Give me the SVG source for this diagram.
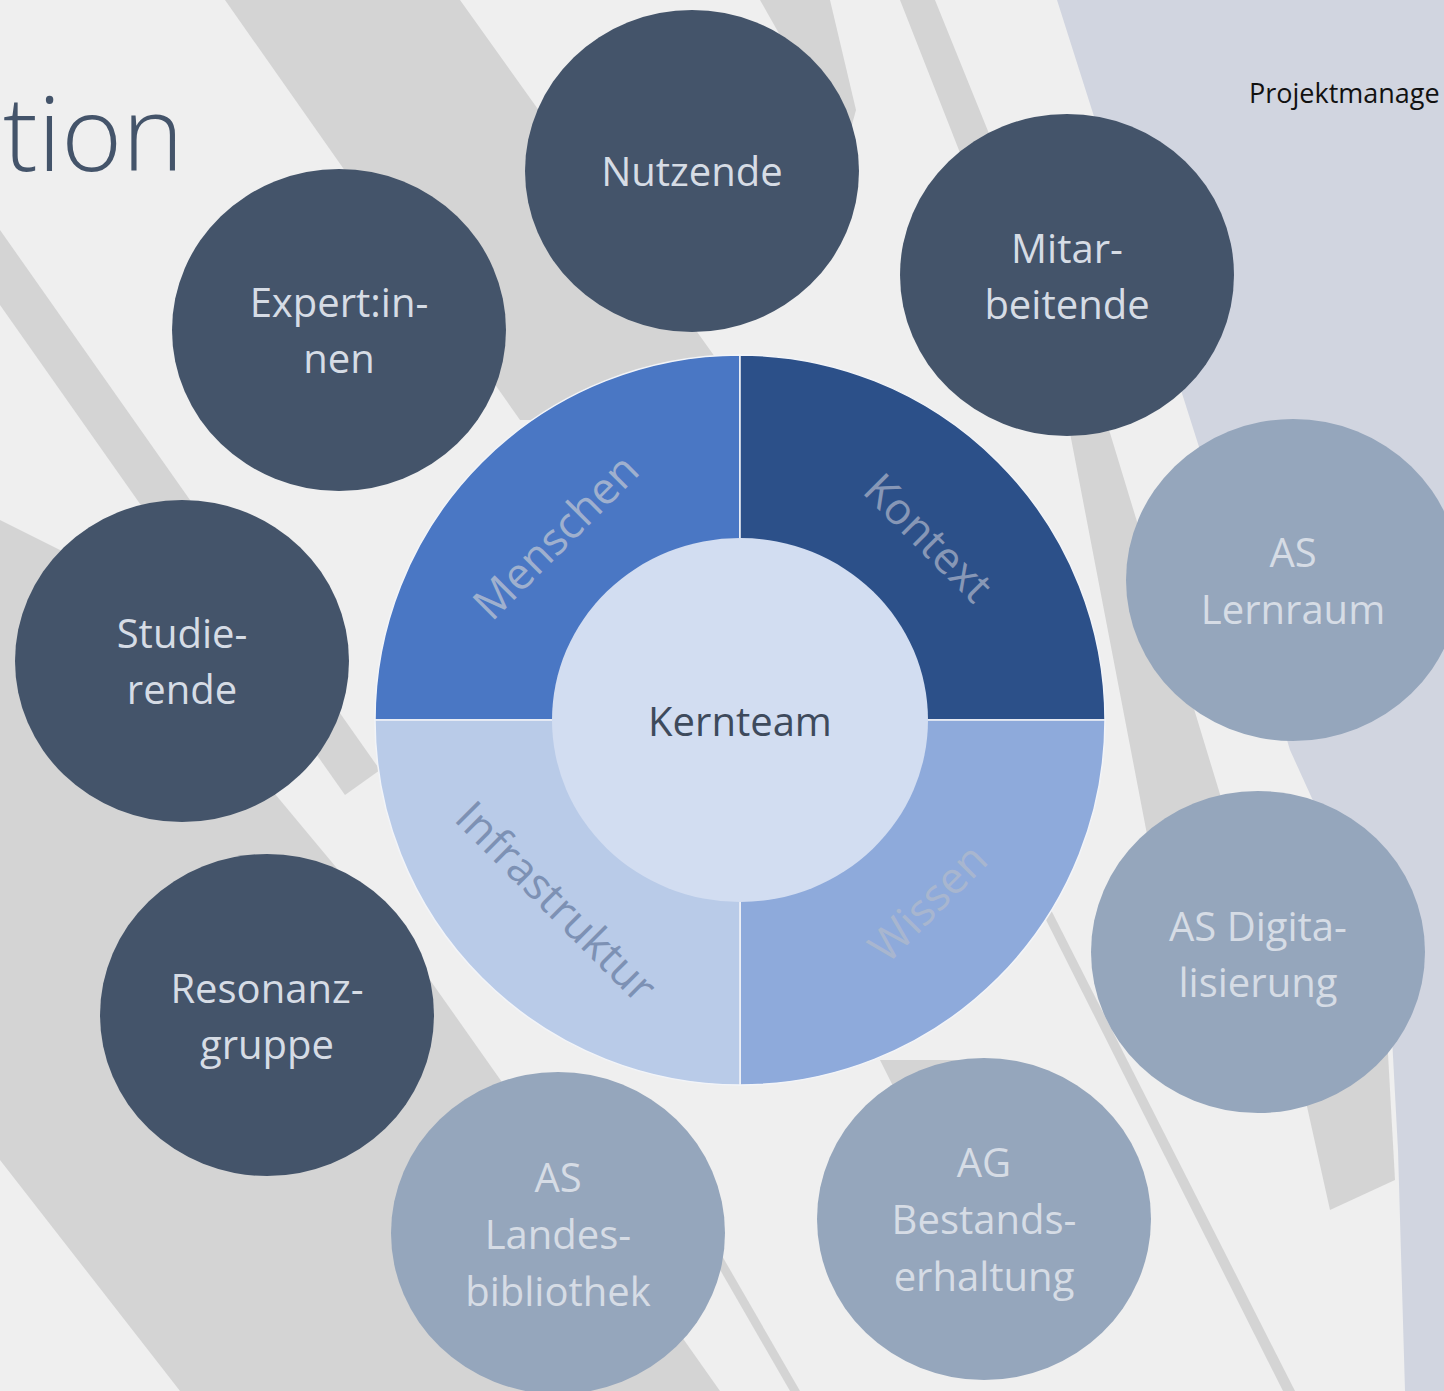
<svg xmlns="http://www.w3.org/2000/svg" width="1444" height="1391" viewBox="0 0 1444 1391">
<style>
.dark{fill:#44546a}
.light{fill:#95a6bc}
.lbl{font-family:"Open Sans","Noto Sans","DejaVu Sans",sans-serif;font-size:40px;fill:#d6dce5;text-anchor:middle}
.ring{font-family:"Open Sans","Noto Sans","DejaVu Sans",sans-serif;font-size:44px;text-anchor:middle}
.grey{fill:#d4d4d4}
.seg{stroke:#f2f4f8;stroke-width:1.5}
</style>
<g id="background">
<rect x="0" y="0" width="1444" height="1391" fill="#efefef"/>
<polygon class="grey" points="225,0 460,0 760,420 520,420"/>
<polygon class="grey" points="760,0 830,0 856,110 845,150"/>
<polygon class="grey" points="0,230 380,770 345,795 0,305"/>
<polygon class="grey" points="0,520 80,560 430,980 720,1391 180,1391 0,1160"/>
<polygon class="grey" points="380,1040 470,1040 520,1120 400,1120"/>
<polygon class="grey" points="900,0 935,0 1110,433 1237,850 1150,850 1070,433"/>
<polygon class="grey" points="1290,1030 1385,1000 1395,1180 1330,1210"/>
<polygon class="grey" points="1036,900 1046,900 1295,1391 1283,1391"/>
<polygon class="grey" points="700,1235 710,1235 800,1391 790,1391"/>
<polygon class="grey" points="880,1060 960,1060 1000,1100 900,1100"/>
<polygon fill="#d1d5e0" points="1057,0 1444,0 1444,1391 1405,1391 1398,1150 1390,1000 1340,860 1290,750 1200,450"/>
</g>
<g id="title">
<text x="3" y="171" font-family="'Open Sans','Noto Sans',sans-serif" font-weight="300" font-size="104" fill="#44546a">tion</text>
<text x="1249" y="103" font-family="'Open Sans','Noto Sans',sans-serif" font-size="27" fill="#111111">Projektmanage</text>
</g>
<g id="connectors"></g>
<g id="ring">
<g id="menschen">
<path class="seg" fill="#4a77c4" d="M740,720 L375,720 A365,365 0 0 1 740,355 Z"/>
<text class="ring" fill="#9fb0ce" transform="translate(556,537) rotate(-45)" x="0" y="15">Menschen</text>
</g>
<g id="kontext">
<path class="seg" fill="#2c5089" d="M740,720 L740,355 A365,365 0 0 1 1105,720 Z"/>
<text class="ring" fill="#8797b6" transform="translate(928,538) rotate(45)" x="0" y="15">Kontext</text>
</g>
<g id="wissen">
<path class="seg" fill="#8eaadb" d="M740,720 L1105,720 A365,365 0 0 1 740,1085 Z"/>
<text class="ring" fill="#a8b6cf" transform="translate(928,903) rotate(-45)" x="0" y="15">Wissen</text>
</g>
<g id="infrastruktur">
<path class="seg" fill="#b9cbe8" d="M740,720 L740,1085 A365,365 0 0 1 375,720 Z"/>
<text class="ring" fill="#7d91b4" transform="translate(556,902) rotate(45)" x="0" y="15">Infrastruktur</text>
</g>
</g>
<g id="kernteam">
<ellipse cx="740" cy="720" rx="188" ry="182" fill="#d2ddf1"/>
<text x="740" y="736" font-family="'Open Sans','Noto Sans',sans-serif" font-size="40" fill="#3e4a5c" text-anchor="middle">Kernteam</text>
</g>
<g id="nutzende">
<ellipse class="dark" cx="692" cy="171" rx="167" ry="161"/>
<text class="lbl" x="692" y="186">Nutzende</text>
</g>
<g id="expertinnen">
<ellipse class="dark" cx="339" cy="330" rx="167" ry="161"/>
<text class="lbl" x="339" y="317">Expert:in-</text>
<text class="lbl" x="339" y="373">nen</text>
</g>
<g id="mitarbeitende">
<ellipse class="dark" cx="1067" cy="275" rx="167" ry="161"/>
<text class="lbl" x="1067" y="263">Mitar-</text>
<text class="lbl" x="1067" y="319">beitende</text>
</g>
<g id="studierende">
<ellipse class="dark" cx="182" cy="661" rx="167" ry="161"/>
<text class="lbl" x="182" y="648">Studie-</text>
<text class="lbl" x="182" y="704">rende</text>
</g>
<g id="resonanzgruppe">
<ellipse class="dark" cx="267" cy="1015" rx="167" ry="161"/>
<text class="lbl" x="267" y="1003">Resonanz-</text>
<text class="lbl" x="267" y="1059">gruppe</text>
</g>
<g id="as-lernraum">
<ellipse class="light" cx="1293" cy="580" rx="167" ry="161"/>
<text class="lbl" x="1293" y="567">AS</text>
<text class="lbl" x="1293" y="624">Lernraum</text>
</g>
<g id="as-digitalisierung">
<ellipse class="light" cx="1258" cy="952" rx="167" ry="161"/>
<text class="lbl" x="1258" y="941">AS Digita-</text>
<text class="lbl" x="1258" y="997">lisierung</text>
</g>
<g id="ag-bestandserhaltung">
<ellipse class="light" cx="984" cy="1219" rx="167" ry="161"/>
<text class="lbl" x="984" y="1177">AG</text>
<text class="lbl" x="984" y="1234">Bestands-</text>
<text class="lbl" x="984" y="1291">erhaltung</text>
</g>
<g id="as-landesbibliothek">
<ellipse class="light" cx="558" cy="1233" rx="167" ry="161"/>
<text class="lbl" x="558" y="1192">AS</text>
<text class="lbl" x="558" y="1249">Landes-</text>
<text class="lbl" x="558" y="1306">bibliothek</text>
</g>
</svg>
